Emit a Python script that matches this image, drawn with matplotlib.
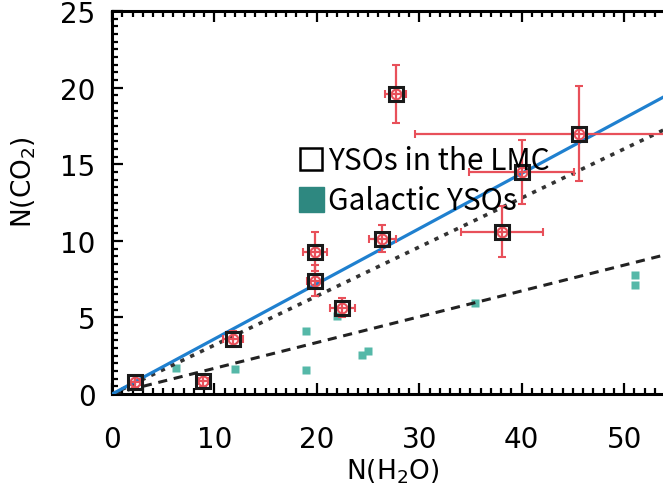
import matplotlib
matplotlib.use("Agg")
import matplotlib.pyplot as plt
from matplotlib.lines import Line2D

# LMC YSOs (open squares, red error bars)
lmc_x = [2.2, 8.9, 11.8, 19.8, 19.8, 22.5, 26.4, 27.7, 38.1, 40.0, 45.6]
lmc_y = [0.8, 0.85, 3.6, 9.3, 7.4, 5.65, 10.15, 19.6, 10.6, 14.5, 17.0]
lmc_xerr = [0.5, 0.5, 1.0, 1.2, 0.8, 1.2, 1.3, 1.0, 4.0, 5.1, 16.0]
lmc_yerr = [0.4, 0.4, 0.5, 1.25, 1.0, 0.6, 0.9, 1.9, 1.65, 2.1, 3.1]

# Galactic YSOs (filled teal squares)
gal_x = [6.2, 12.0, 18.9, 18.9, 22.0, 24.4, 25.0, 35.4, 51.1, 51.1]
gal_y = [1.7, 1.63, 4.12, 1.58, 5.1, 2.54, 2.82, 5.97, 7.75, 7.12]

# fit lines (end points)
fit_x = [0, 60]
blue_y = [0, 21.6]
dotted_y = [0, 19.2]
dashed_y = [0, 10.1]

fig = plt.figure(figsize=(6.63, 4.89), dpi=100)
ax = fig.add_axes([0.169, 0.192, 0.831, 0.7835])

ax.plot(gal_x, gal_y, 's', color='#55b8a8', ms=5.5, mec='none', zorder=2)
ax.plot(fit_x, dashed_y, color='#222222', lw=2.2, ls=(0, (3, 2.2)), zorder=3)
ax.plot(fit_x, dotted_y, color='#333333', lw=2.6, ls=(0, (1.2, 1.8)), zorder=3)
ax.plot(fit_x, blue_y, color='#1f80cf', lw=2.3, zorder=4)

ax.errorbar(lmc_x, lmc_y, xerr=lmc_xerr, yerr=lmc_yerr, fmt='o', color='#e8505a',
            mfc='none', ms=7, mew=1.5, elinewidth=1.6, capsize=3, capthick=1.6, zorder=5)
ax.plot(lmc_x, lmc_y, 's', mfc='none', mec='#1a1a1a', ms=9.5, mew=2.2, zorder=6)

ax.set_xlim(0, 53.8)
ax.set_ylim(0, 25)
ax.set_xticks([0, 10, 20, 30, 40, 50])
ax.set_yticks([0, 5, 10, 15, 20, 25])
ax.set_xticks(range(0, 54), minor=True)
ax.set_yticks([i * 0.5 for i in range(51)], minor=True)
ax.tick_params(which='both', direction='in', top=True, right=False, width=1.6,
               labelsize=20, pad=12)
ax.tick_params(axis='x', which='major', pad=22)
ax.tick_params(which='major', length=8)
ax.tick_params(which='minor', length=4)
for s in ['left', 'bottom', 'top']:
    ax.spines[s].set_linewidth(2.2)
ax.spines['right'].set_visible(False)

ax.set_xlabel(r'N(H$_2$O)', fontsize=19)
ax.xaxis.set_label_coords(0.51, -0.2)
ax.xaxis.label.set_va('center')
ax.set_ylabel(r'N(CO$_2$)', fontsize=19)
ax.yaxis.set_label_coords(-0.135, 0.555)

handles = [
    Line2D([], [], marker='s', ls='none', ms=16, mfc='none', mec='black', mew=1.8),
    Line2D([], [], marker='s', ls='none', ms=18, color='#2e8880', mec='#2e8880'),
]
leg = ax.legend(handles, ['YSOs in the LMC', 'Galactic YSOs'], loc='upper left',
                bbox_to_anchor=(0.34, 0.65), frameon=False, borderpad=0,
                borderaxespad=0, handlelength=0.8, handletextpad=0.15,
                labelspacing=0.3, prop={'family': 'Noto Sans CJK JP', 'size': 21.5})
leg.set_zorder(10)

fig.savefig('out.png', dpi=100)
